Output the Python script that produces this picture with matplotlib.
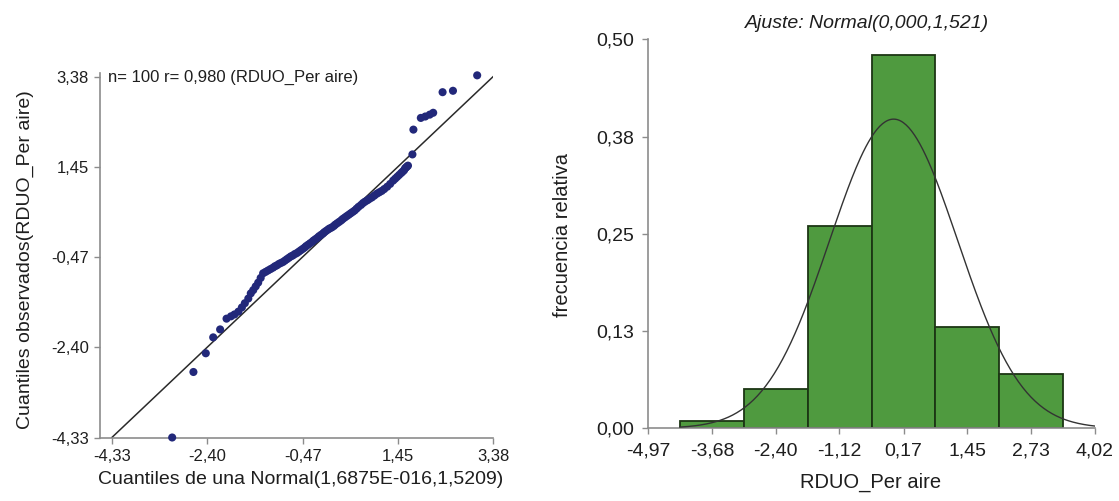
import numpy as np
import matplotlib
matplotlib.use("Agg")
import matplotlib.pyplot as plt

plt.rcParams["font.family"] = ["Liberation Sans", "DejaVu Sans"]

# --- QQ plot data ---
qq_theo = [
    -3.11, -2.68, -2.43, -2.28, -2.14, -2.01, -1.92, -1.85, -1.77, -1.70,
    -1.64, -1.57, -1.52, -1.47, -1.42, -1.37, -1.32, -1.27, -1.22, -1.17,
    -1.12, -1.07, -1.03, -0.99, -0.95, -0.91, -0.87, -0.83, -0.79, -0.75,
    -0.71, -0.67, -0.63, -0.59, -0.55, -0.51, -0.47, -0.43, -0.40, -0.36,
    -0.32, -0.28, -0.25, -0.21, -0.17, -0.14, -0.10, -0.06, -0.03, 0.01,
    0.05, 0.08, 0.12, 0.16, 0.19, 0.23, 0.27, 0.31, 0.34, 0.38,
    0.42, 0.46, 0.50, 0.54, 0.58, 0.62, 0.66, 0.71, 0.75, 0.79,
    0.84, 0.88, 0.93, 0.98, 1.03, 1.08, 1.13, 1.18, 1.24, 1.30,
    1.36, 1.40, 1.44, 1.48, 1.52, 1.55, 1.58, 1.60, 1.64, 1.75,
    1.77, 1.92, 2.01, 2.10, 2.17, 2.36, 2.57, 3.06, 1.62, 1.66,
]
qq_obs = [
    -4.33, -2.93, -2.53, -2.19, -2.02, -1.79, -1.74, -1.70, -1.64, -1.55,
    -1.46, -1.36, -1.25, -1.18, -1.10, -1.02, -0.92, -0.82, -0.79, -0.76,
    -0.73, -0.70, -0.67, -0.65, -0.62, -0.60, -0.58, -0.55, -0.52, -0.49,
    -0.46, -0.44, -0.41, -0.39, -0.36, -0.33, -0.30, -0.27, -0.24, -0.21,
    -0.18, -0.15, -0.12, -0.09, -0.06, -0.03, 0.00, 0.03, 0.06, 0.09,
    0.12, 0.14, 0.16, 0.19, 0.22, 0.25, 0.28, 0.31, 0.34, 0.37,
    0.40, 0.43, 0.46, 0.49, 0.52, 0.56, 0.60, 0.64, 0.68, 0.71,
    0.74, 0.77, 0.80, 0.84, 0.88, 0.91, 0.94, 0.98, 1.03, 1.09,
    1.16, 1.20, 1.24, 1.28, 1.32, 1.35, 1.38, 1.42, 1.46, 1.72,
    2.25, 2.50, 2.53, 2.57, 2.61, 3.05, 3.08, 3.41, 1.44, 1.48,
]
qq_ticks = [-4.33, -2.40, -0.47, 1.45, 3.38]
qq_ticklabels = ["-4,33", "-2,40", "-0,47", "1,45", "3,38"]

# --- histogram data ---
bin_edges = [-4.33, -3.045, -1.76, -0.475, 0.81, 2.095, 3.38]
rel_freq = [0.01, 0.05, 0.26, 0.48, 0.13, 0.07]
hist_xticks = [-4.97, -3.68, -2.40, -1.12, 0.17, 1.45, 2.73, 4.02]
hist_xticklabels = ["-4,97", "-3,68", "-2,40", "-1,12", "0,17", "1,45", "2,73", "4,02"]
hist_yticks = [0.0, 0.125, 0.25, 0.375, 0.50]
hist_yticklabels = ["0,00", "0,13", "0,25", "0,38", "0,50"]
fit_mean, fit_sd = -0.03, 1.29

W, H = 1119, 501
fig = plt.figure(figsize=(W / 100, H / 100), dpi=100)
fig.patch.set_facecolor("white")

spine_col = "#8c8c8c"
text_col = "#1e1e1e"


def style(ax, size, pad):
    for s in ("top", "right"):
        ax.spines[s].set_visible(False)
    for s in ("left", "bottom"):
        ax.spines[s].set_color(spine_col)
        ax.spines[s].set_linewidth(1.2)
    ax.tick_params(colors=spine_col, labelcolor=text_col, labelsize=size,
                   length=4, width=1, direction="out", pad=pad)


# left: QQ plot
ax1 = fig.add_axes([100 / W, 1 - 437.5 / H, 393 / W, 364.5 / H])
style(ax1, 12, 4)
ax1.set_xlim(-4.57, 3.38)
ax1.set_ylim(-4.33, 3.46)
ax1.plot([-4.33, 3.38], [-4.33, 3.38], color="#2a2a2a", lw=1.1, zorder=2)
ax1.scatter(qq_theo, qq_obs, s=34, color="#22287a", edgecolors="none",
            zorder=3, clip_on=False)
ax1.set_xticks(qq_ticks)
ax1.set_xticklabels(qq_ticklabels)
ax1.set_yticks(qq_ticks)
ax1.set_yticklabels(qq_ticklabels)
fig.text(108 / W, 1 - 77 / H, "n= 100 r= 0,980 (RDUO_Per aire)",
         fontsize=12, color=text_col, ha="left", va="center")
fig.text(301 / W, 1 - 480 / H, "Cuantiles de una Normal(1,6875E-016,1,5209)",
         fontsize=14, color=text_col, ha="center", va="center")
fig.text(25 / W, 1 - 260 / H, "Cuantiles observados(RDUO_Per aire)",
         fontsize=14, color=text_col, ha="center", va="center", rotation=90)

# right: histogram
ax2 = fig.add_axes([648 / W, 1 - 428.3 / H, 447 / W, 389 / H])
style(ax2, 14, 6)
ax2.set_xlim(-4.97, 4.02)
ax2.set_ylim(0, 0.50)
widths = np.diff(bin_edges)
ax2.bar(bin_edges[:-1], rel_freq, width=widths, align="edge",
        color="#4f9a3f", edgecolor="#1c3614", linewidth=1.3, zorder=2)
xs = np.linspace(bin_edges[0], 4.02, 300)
bw = widths.mean()
curve = bw / (fit_sd * np.sqrt(2 * np.pi)) * np.exp(-0.5 * ((xs - fit_mean) / fit_sd) ** 2)
ax2.plot(xs, curve, color="#333333", lw=1.0, zorder=3)
ax2.set_xticks(hist_xticks)
ax2.set_xticklabels(hist_xticklabels)
ax2.set_yticks(hist_yticks)
ax2.set_yticklabels(hist_yticklabels)
fig.text(867 / W, 1 - 23 / H, "Ajuste: Normal(0,000,1,521)", fontsize=14,
         style="italic", color=text_col, ha="center", va="center")
fig.text(871 / W, 1 - 482 / H, "RDUO_Per aire", fontsize=14.5,
         color=text_col, ha="center", va="center")
fig.text(563 / W, 1 - 235 / H, "frecuencia relativa", fontsize=14.5,
         color=text_col, ha="center", va="center", rotation=90)

fig.savefig("out.png", dpi=100, facecolor="white")
